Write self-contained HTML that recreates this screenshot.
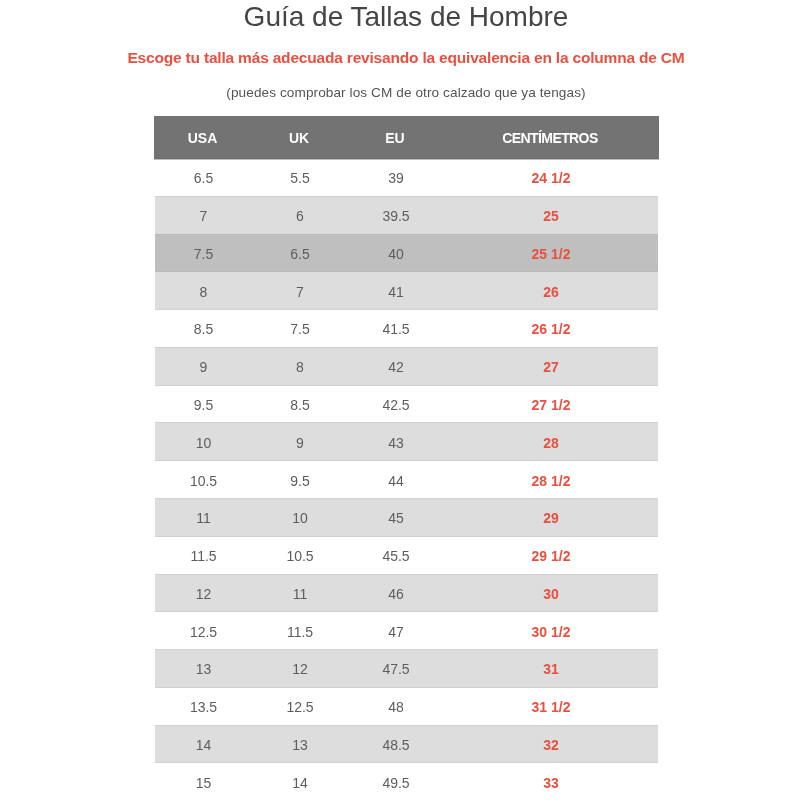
<!DOCTYPE html><html><head><meta charset="utf-8"><style>
*{margin:0;padding:0;box-sizing:border-box}
html,body{width:800px;height:800px;overflow:hidden;background:#fff;font-family:"Liberation Sans",sans-serif}
.t{position:absolute;left:6px;width:800px;text-align:center;white-space:nowrap;will-change:transform}
#title{top:-0.3px;font-size:28px;color:#454545;line-height:34px;letter-spacing:0px}
#red{top:47px;font-size:15.5px;color:#e8503f;font-weight:bold;line-height:22px;letter-spacing:-0.19px}
#sub{top:84px;font-size:13.6px;color:#555555;line-height:18px;letter-spacing:0.09px}
#head{position:absolute;left:154px;top:116px;width:504.5px;height:43.1px;background:#737373;border-bottom:1px solid #6e6e6e;box-shadow:0 1px 0 rgba(110,110,110,.45)}
.r{position:absolute;left:155px;width:503px;height:37.77px;border-bottom:1px solid #d1d1d1}
.hb{border-bottom-color:#b9b9b9}
.g{background:#dddddd}
.h{background:#bfbfbf}
.c{position:absolute;top:0;height:100%;display:flex;align-items:center;justify-content:center;white-space:nowrap;will-change:transform}
.c1{left:0;width:97px} .c2{left:97px;width:96px} .c3{left:193px;width:96px} .c4{left:289px;width:214px}
#head .c{color:#fff;font-weight:bold;font-size:14px;top:0.75px}
.r .c{color:#5d5d5d;font-size:14px;top:1.3px}
.r .c4{color:#e8503f;font-weight:bold}
</style></head><body>
<div class="t" id="title">Guía de Tallas de Hombre</div>
<div class="t" id="red">Escoge tu talla más adecuada revisando la equivalencia en la columna de CM</div>
<div class="t" id="sub">(puedes comprobar los CM de otro calzado que ya tengas)</div>
<div id="head"><div class="c c1">USA</div><div class="c c2">UK</div><div class="c c3">EU</div><div class="c c4" style="letter-spacing:-0.6px">CENTÍMETROS</div></div>
<div class="r" style="top:159.10px"><div class="c c1">6.5</div><div class="c c2">5.5</div><div class="c c3">39</div><div class="c c4">24 1/2</div></div>
<div class="r hb g" style="top:196.87px"><div class="c c1">7</div><div class="c c2">6</div><div class="c c3">39.5</div><div class="c c4">25</div></div>
<div class="r hb h" style="top:234.64px"><div class="c c1">7.5</div><div class="c c2">6.5</div><div class="c c3">40</div><div class="c c4">25 1/2</div></div>
<div class="r g" style="top:272.41px"><div class="c c1">8</div><div class="c c2">7</div><div class="c c3">41</div><div class="c c4">26</div></div>
<div class="r" style="top:310.18px"><div class="c c1">8.5</div><div class="c c2">7.5</div><div class="c c3">41.5</div><div class="c c4">26 1/2</div></div>
<div class="r g" style="top:347.95px"><div class="c c1">9</div><div class="c c2">8</div><div class="c c3">42</div><div class="c c4">27</div></div>
<div class="r" style="top:385.72px"><div class="c c1">9.5</div><div class="c c2">8.5</div><div class="c c3">42.5</div><div class="c c4">27 1/2</div></div>
<div class="r g" style="top:423.49px"><div class="c c1">10</div><div class="c c2">9</div><div class="c c3">43</div><div class="c c4">28</div></div>
<div class="r" style="top:461.26px"><div class="c c1">10.5</div><div class="c c2">9.5</div><div class="c c3">44</div><div class="c c4">28 1/2</div></div>
<div class="r g" style="top:499.03px"><div class="c c1">11</div><div class="c c2">10</div><div class="c c3">45</div><div class="c c4">29</div></div>
<div class="r" style="top:536.80px"><div class="c c1">11.5</div><div class="c c2">10.5</div><div class="c c3">45.5</div><div class="c c4">29 1/2</div></div>
<div class="r g" style="top:574.57px"><div class="c c1">12</div><div class="c c2">11</div><div class="c c3">46</div><div class="c c4">30</div></div>
<div class="r" style="top:612.34px"><div class="c c1">12.5</div><div class="c c2">11.5</div><div class="c c3">47</div><div class="c c4">30 1/2</div></div>
<div class="r g" style="top:650.11px"><div class="c c1">13</div><div class="c c2">12</div><div class="c c3">47.5</div><div class="c c4">31</div></div>
<div class="r" style="top:687.88px"><div class="c c1">13.5</div><div class="c c2">12.5</div><div class="c c3">48</div><div class="c c4">31 1/2</div></div>
<div class="r g" style="top:725.65px"><div class="c c1">14</div><div class="c c2">13</div><div class="c c3">48.5</div><div class="c c4">32</div></div>
<div class="r" style="top:763.42px"><div class="c c1">15</div><div class="c c2">14</div><div class="c c3">49.5</div><div class="c c4">33</div></div>
</body></html>
